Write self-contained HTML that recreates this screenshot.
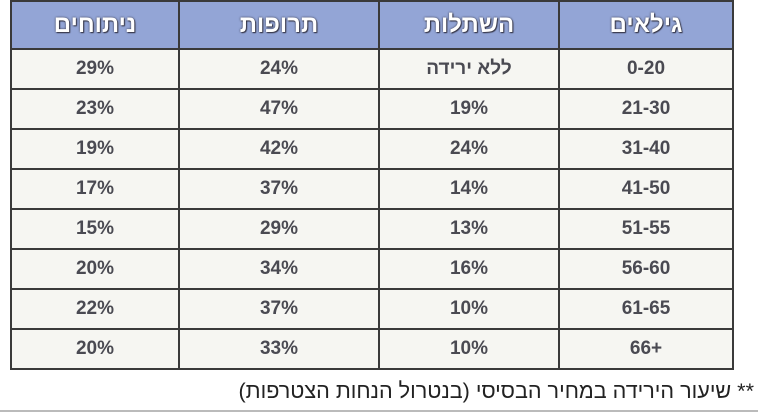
<!DOCTYPE html>
<html><head><meta charset="utf-8"><style>
body{margin:0;width:758px;height:414px;background:#fff;overflow:hidden;font-family:"Liberation Sans","DejaVu Sans",sans-serif;}
table{position:absolute;left:10px;top:0;border-collapse:collapse;direction:rtl;}
td,th{border:2px solid #3a3a3a;text-align:center;padding:0;}
th{background:#93a5d6;color:#fff;height:46px;font-size:24px;font-weight:bold;text-shadow:0 0 2px #334,1px 1px 1px #334;}
td{background:#f6f6f2;color:#4a4a52;height:38px;font-size:19px;font-weight:bold;}
.note{position:absolute;right:4px;top:378px;font-size:21.6px;color:#222;direction:rtl;white-space:nowrap;}
.line{position:absolute;left:0;right:0;top:410px;height:2px;background:#bbb;}
</style></head><body>
<table>
<tr><th style="width:172px">גילאים</th><th style="width:178px">השתלות</th><th style="width:198px">תרופות</th><th style="width:166px">ניתוחים</th></tr>
<tr><td>0-20</td><td>ללא ירידה</td><td>24%</td><td>29%</td></tr>
<tr><td>21-30</td><td>19%</td><td>47%</td><td>23%</td></tr>
<tr><td>31-40</td><td>24%</td><td>42%</td><td>19%</td></tr>
<tr><td>41-50</td><td>14%</td><td>37%</td><td>17%</td></tr>
<tr><td>51-55</td><td>13%</td><td>29%</td><td>15%</td></tr>
<tr><td>56-60</td><td>16%</td><td>34%</td><td>20%</td></tr>
<tr><td>61-65</td><td>10%</td><td>37%</td><td>22%</td></tr>
<tr><td>+66</td><td>10%</td><td>33%</td><td>20%</td></tr>
</table>
<div class="note">** שיעור הירידה במחיר הבסיסי (בנטרול הנחות הצטרפות)</div>
<div class="line"></div>
</body></html>
